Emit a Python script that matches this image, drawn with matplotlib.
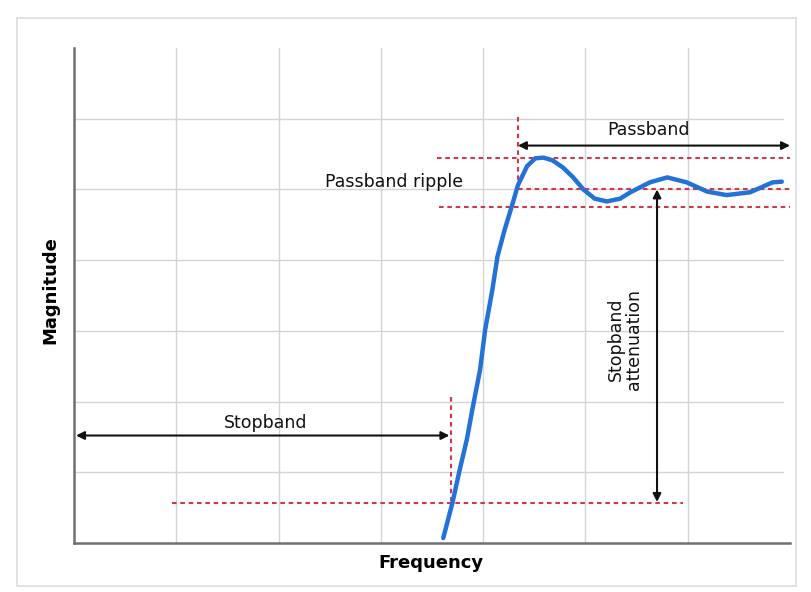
import matplotlib
matplotlib.use("Agg")
import matplotlib.pyplot as plt
from matplotlib.patches import Rectangle

# response curve (frequency, magnitude in grid units)
freq = [3.61, 3.70, 3.77, 3.84, 3.90, 3.97, 4.02, 4.09, 4.14, 4.21, 4.28, 4.34,
        4.43, 4.51, 4.59, 4.68, 4.78, 4.88, 4.98, 5.09, 5.21, 5.34, 5.44, 5.63,
        5.80, 5.99, 6.19, 6.38, 6.61, 6.83, 6.92]
mag = [0.07, 0.57, 1.03, 1.46, 1.93, 2.45, 3.02, 3.58, 4.05, 4.43, 4.76, 5.06,
       5.33, 5.44, 5.45, 5.41, 5.31, 5.17, 5.00, 4.87, 4.83, 4.87, 4.96, 5.10,
       5.17, 5.10, 4.97, 4.92, 4.96, 5.10, 5.11]

ripple_hi = 5.45
ripple_mid = 5.0
ripple_lo = 4.75
stop_att = 0.57
f_stop = 3.69
f_pass = 4.34

fig = plt.figure(figsize=(8.12, 5.92), dpi=100)
fig.patches.append(Rectangle((17 / 812, 6 / 592), 779 / 812, 568 / 592,
                             transform=fig.transFigure, fill=False,
                             edgecolor="#dcdcdc", lw=1.2))
ax = fig.add_axes([74 / 812, 49 / 592, 716 / 812, 495 / 592])
ax.set_xlim(0, 7)
ax.set_ylim(0, 7)

grid_c = "#d4d4d4"
for gx in range(1, 7):
    ax.plot([gx, gx], [0, 7], color=grid_c, lw=1, zorder=0)
for gy in range(1, 7):
    ax.plot([0, 6.93], [gy, gy], color=grid_c, lw=1, zorder=0)

for s in ["top", "right"]:
    ax.spines[s].set_visible(False)
for s in ["left", "bottom"]:
    ax.spines[s].set_color("#707070")
    ax.spines[s].set_linewidth(1.8)
ax.set_xticks([])
ax.set_yticks([])

red = "#cf3a46"
dash = (0, (2.2, 1.8))
ax.plot([3.55, 7.0], [ripple_hi, ripple_hi], color=red, lw=1.5, ls=dash)
ax.plot([f_pass, 7.0], [ripple_mid, ripple_mid], color=red, lw=1.5, ls=dash)
ax.plot([3.57, 7.0], [ripple_lo, ripple_lo], color=red, lw=1.5, ls=dash)
ax.plot([f_pass, f_pass], [6.02, 5.0], color=red, lw=1.5, ls=dash)
ax.plot([f_stop, f_stop], [2.07, 0.6], color=red, lw=1.5, ls=dash)
ax.plot([0.96, 5.95], [stop_att, stop_att], color=red, lw=1.5, ls=dash)

ax.plot(freq, mag, color="#2372d8", lw=3.2, solid_capstyle="round",
        solid_joinstyle="round", zorder=5)

arw = dict(arrowstyle="<|-|>", color="#111111", lw=1.5,
           mutation_scale=12, shrinkA=0, shrinkB=0)
ax.annotate("", xy=(f_pass, 5.62), xytext=(7.0, 5.62), arrowprops=arw)
ax.annotate("", xy=(0.02, 1.52), xytext=(f_stop - 0.02, 1.52), arrowprops=arw)
ax.annotate("", xy=(5.70, ripple_mid), xytext=(5.70, stop_att + 0.01), arrowprops=arw)

tk = dict(fontsize=12.5, color="#111111", family="DejaVu Sans")
ax.text(5.62, 5.84, "Passband", ha="center", va="center", **tk)
ax.text(1.87, 1.70, "Stopband", ha="center", va="center", **tk)
ax.text(3.13, 5.10, "Passband ripple", ha="center", va="center", **tk)
ax.text(5.39, 2.88, "Stopband\nattenuation", ha="center", va="center",
        rotation=90, linespacing=1.0, **tk)

fig.text(431 / 812, 1 - 563 / 592, "Frequency", ha="center", va="center",
         fontsize=13, fontweight="bold")
fig.text(50 / 812, 1 - 290 / 592, "Magnitude", ha="center", va="center",
         fontsize=13, fontweight="bold", rotation=90)

fig.savefig("out.png", dpi=100)
